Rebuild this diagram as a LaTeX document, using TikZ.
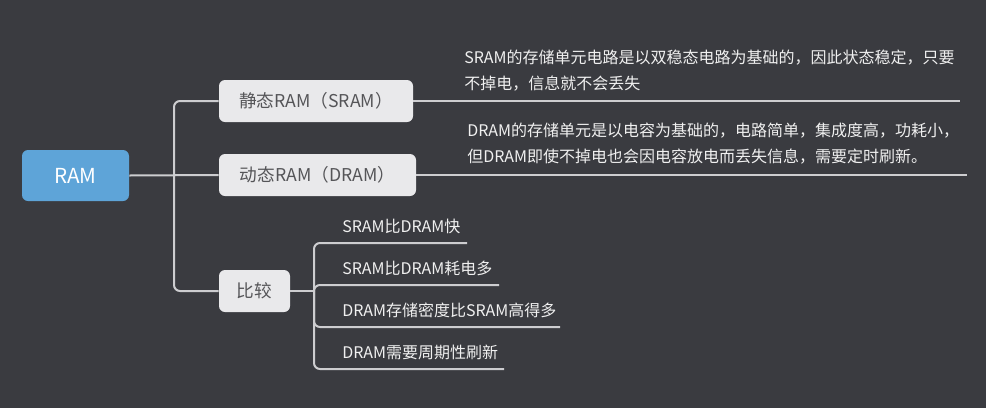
\documentclass[tikz,border=0pt]{standalone}
\usepackage{fontspec}
\setmainfont{Noto Sans CJK SC}
\usepackage{tikz}
\usetikzlibrary{positioning,calc}
\definecolor{bgdark}{RGB}{58,59,64}
\definecolor{rootblue}{RGB}{94,164,216}
\definecolor{boxgray}{RGB}{233,233,235}
\definecolor{boxtext}{RGB}{85,85,88}
\definecolor{leaftext}{RGB}{240,240,240}
\definecolor{linegray}{RGB}{205,205,208}

\begin{document}
\begin{tikzpicture}[x=0.75pt, y=-0.75pt,
    root/.style={fill=rootblue, text=white, rounded corners=4.5pt, minimum width=80.25pt, minimum height=38.25pt, font=\fontsize{15.5}{18}\selectfont},
    topic/.style={fill=boxgray, text=boxtext, rounded corners=4.5pt, minimum height=31.5pt, font=\fontsize{13.25}{15}\selectfont},
    leaf/.style={text=leaftext, inner sep=0pt, anchor=west, align=left, font=\fontsize{12}{19.5}\selectfont},
    conn/.style={draw=linegray, line width=1.5pt, rounded corners=4.5pt}]
    \fill[bgdark] (0,0) rectangle (986,408);
    \useasboundingbox (0,0) rectangle (986,408);

    \node[root] (ram) at (75.5,175.5) {RAM};
    \node[topic, minimum width=145.5pt] (sram) at (316,101) {静态RAM（SRAM）};
    \node[topic, minimum width=147.75pt] (dram) at (317.5,175) {动态RAM（DRAM）};
    \node[topic, minimum width=53.25pt] (cmp) at (254.5,291) {比较};

    \node[leaf] (sramtxt) at (464,71) {SRAM的存储单元电路是以双稳态电路为基础的，因此状态稳定，只要\\不掉电，信息就不会丢失};
    \node[leaf] (dramtxt) at (467,144) {DRAM的存储单元是以电容为基础的，电路简单，集成度高，功耗小，\\但DRAM即使不掉电也会因电容放电而丢失信息，需要定时刷新。};
    \node[leaf] (c1) at (342,226) {SRAM比DRAM快};
    \node[leaf] (c2) at (342,268) {SRAM比DRAM耗电多};
    \node[leaf] (c3) at (342,310) {DRAM存储密度比SRAM高得多};
    \node[leaf] (c4) at (342,352) {DRAM需要周期性刷新};

    \coordinate (trunk) at (174,175);
    \coordinate (cmpj) at (314,291);
    \coordinate (sramend) at (960,101);
    \coordinate (dramend) at (967,175);
    \coordinate (c1e) at (467,243);
    \coordinate (c2e) at (499,285);
    \coordinate (c3e) at (560,327);
    \coordinate (c4e) at (504,369);

    \draw[conn] (ram.east) -- (dram.west);
    \draw[conn] (trunk) |- (sram.west);
    \draw[conn] (trunk) |- (cmp.west);
    \draw[conn] (sram.east) -- (sramend);
    \draw[conn] (dram.east) -- (dramend);
    \draw[conn] (cmp.east) -- (cmpj);
    \foreach \e in {c1e,c2e,c3e,c4e}
        \draw[conn] (cmpj) |- (\e);
\end{tikzpicture}
\end{document}
